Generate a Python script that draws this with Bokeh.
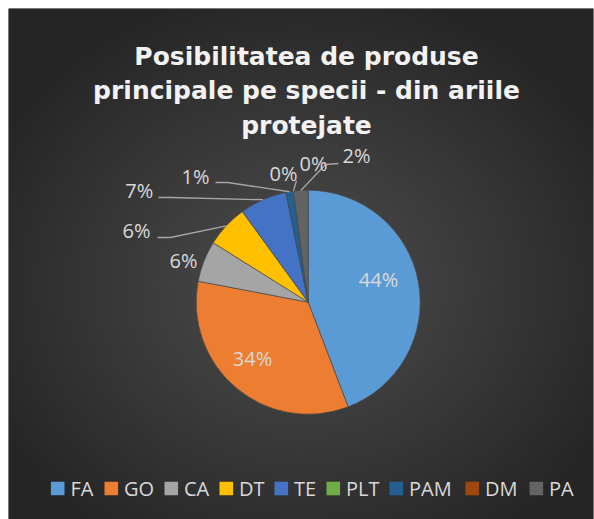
import numpy as np
from bokeh.plotting import figure
from bokeh.models import Range1d, ColumnDataSource
from bokeh.core.properties import value
from bokeh.embed import file_html
from bokeh.resources import INLINE

# ---------------- data ----------------
title_lines = ["Posibilitatea de produse", "principale pe specii - din ariile", "protejate"]
categories = ["FA", "GO", "CA", "DT", "TE", "PLT", "PAM", "DM", "PA"]
shares = [44.2, 33.8, 5.9, 6.1, 6.8, 0.0, 1.1, 0.0, 2.1]
colors = ["#5B9BD5", "#ED7D31", "#A5A5A5", "#FFC000", "#4472C4",
          "#70AD47", "#255E91", "#9E480E", "#636363"]

# ---------------- layout ----------------
# chart area (dark panel) inside a thin white page border
W, H = 585, 511
MARGIN_L, MARGIN_T, MARGIN_R = 8, 8, 1


def X(ix):
    return ix - MARGIN_L


def Y(iy):
    return H - (iy - MARGIN_T)


CX, CY, R = X(307.7), Y(301.7), 112.0

# label positions (reference pixel coords)
label_pos = [(378, 279), (252, 357.5), (183, 260), (136, 229.5), (138.7, 189.5),
             (313, 163), (195, 175.5), (283, 172.5), (356, 155)]
# leader line start / elbow points, None = no leader
leader_pts = [None, None, None,
              [(157, 237), (170, 237)],
              [(158, 197), (170, 197)],
              None,
              [(215, 182), (227, 182)],
              [(296, 180)],
              [(338, 163), (325, 164)]]
legend_sq_left = [50.4, 104, 164, 219, 274, 326, 389, 465, 529]
LEG_Y = 488
SQ = 13.6

p = figure(width=W + MARGIN_L + MARGIN_R, height=H + MARGIN_T,
           x_range=Range1d(0, W), y_range=Range1d(0, H),
           output_backend="svg", toolbar_location=None,
           min_border_left=MARGIN_L, min_border_top=MARGIN_T,
           min_border_right=MARGIN_R, min_border_bottom=0,
           x_axis_type=None, y_axis_type=None)
p.grid.visible = False
p.outline_line_color = None
p.background_fill_color = "#333333"
p.border_fill_color = "white"

# radial gradient background
yy, xx = np.mgrid[0:H, 0:W]
gcx, gcy = X(300), Y(285)
d = np.sqrt(((xx - gcx) / (W * 0.6)) ** 2 + ((yy - gcy) / (H * 0.6)) ** 2)
d = np.clip(d, 0, 1) ** 1.1
c = (0x4C * (1 - d) + 0x25 * d).astype(np.uint8)
img = np.empty((H, W), dtype=np.uint32)
view = img.view(dtype=np.uint8).reshape((H, W, 4))
view[..., 0] = c
view[..., 1] = c
view[..., 2] = c
view[..., 3] = 255
p.image_rgba(image=[img], x=0, y=0, dw=W, dh=H)

# pie
total = float(sum(shares))
cum = np.concatenate([[0.0], np.cumsum(shares)]) / total
starts = np.pi / 2 - 2 * np.pi * cum[:-1]
ends = np.pi / 2 - 2 * np.pi * cum[1:]
mids = (starts + ends) / 2
keep = [i for i, s in enumerate(shares) if s > 0]
wsrc = ColumnDataSource(dict(start=[starts[i] for i in keep], end=[ends[i] for i in keep],
                             color=[colors[i] for i in keep]))
p.wedge(x=CX, y=CY, radius=R, start_angle="start", end_angle="end", direction="clock",
        fill_color="color", line_color="#4a4a4a", line_width=0.7, source=wsrc)

# leader lines
lxs, lys = [], []
for i, pts in enumerate(leader_pts):
    if pts is None:
        continue
    ex = CX + R * np.cos(mids[i])
    ey = CY + R * np.sin(mids[i])
    lxs.append([X(a) for a, b in pts] + [ex])
    lys.append([Y(b) for a, b in pts] + [ey])
p.multi_line(xs=lxs, ys=lys, line_color="#a6a6a6", line_width=1.3)

# data labels
labels = ["%d%%" % round(s / total * 100) for s in shares]
p.text(x=[X(a) for a, b in label_pos], y=[Y(b) for a, b in label_pos], text=labels,
       text_font=value("Open Sans"), text_font_size="20px", text_color="#d9d9d9",
       text_align="center", text_baseline="middle")

# title
p.text(x=[X(306)] * 3, y=[Y(55.7), Y(90), Y(125)], text=title_lines,
       text_font=value("DejaVu Sans"), text_font_style="bold", text_font_size="25px",
       text_color="#f2f2f2", text_align="center", text_baseline="alphabetic")

# legend
p.rect(x=[X(v + SQ / 2) for v in legend_sq_left], y=[Y(LEG_Y)] * len(categories),
       width=SQ, height=SQ, fill_color=colors, line_color=None)
p.text(x=[X(v + 19.5) for v in legend_sq_left], y=[Y(LEG_Y)] * len(categories),
       text=categories, text_font=value("Open Sans"), text_font_size="20px",
       text_color="#d9d9d9", text_align="left", text_baseline="middle")

open("out.html", "w").write(file_html(p, INLINE))
